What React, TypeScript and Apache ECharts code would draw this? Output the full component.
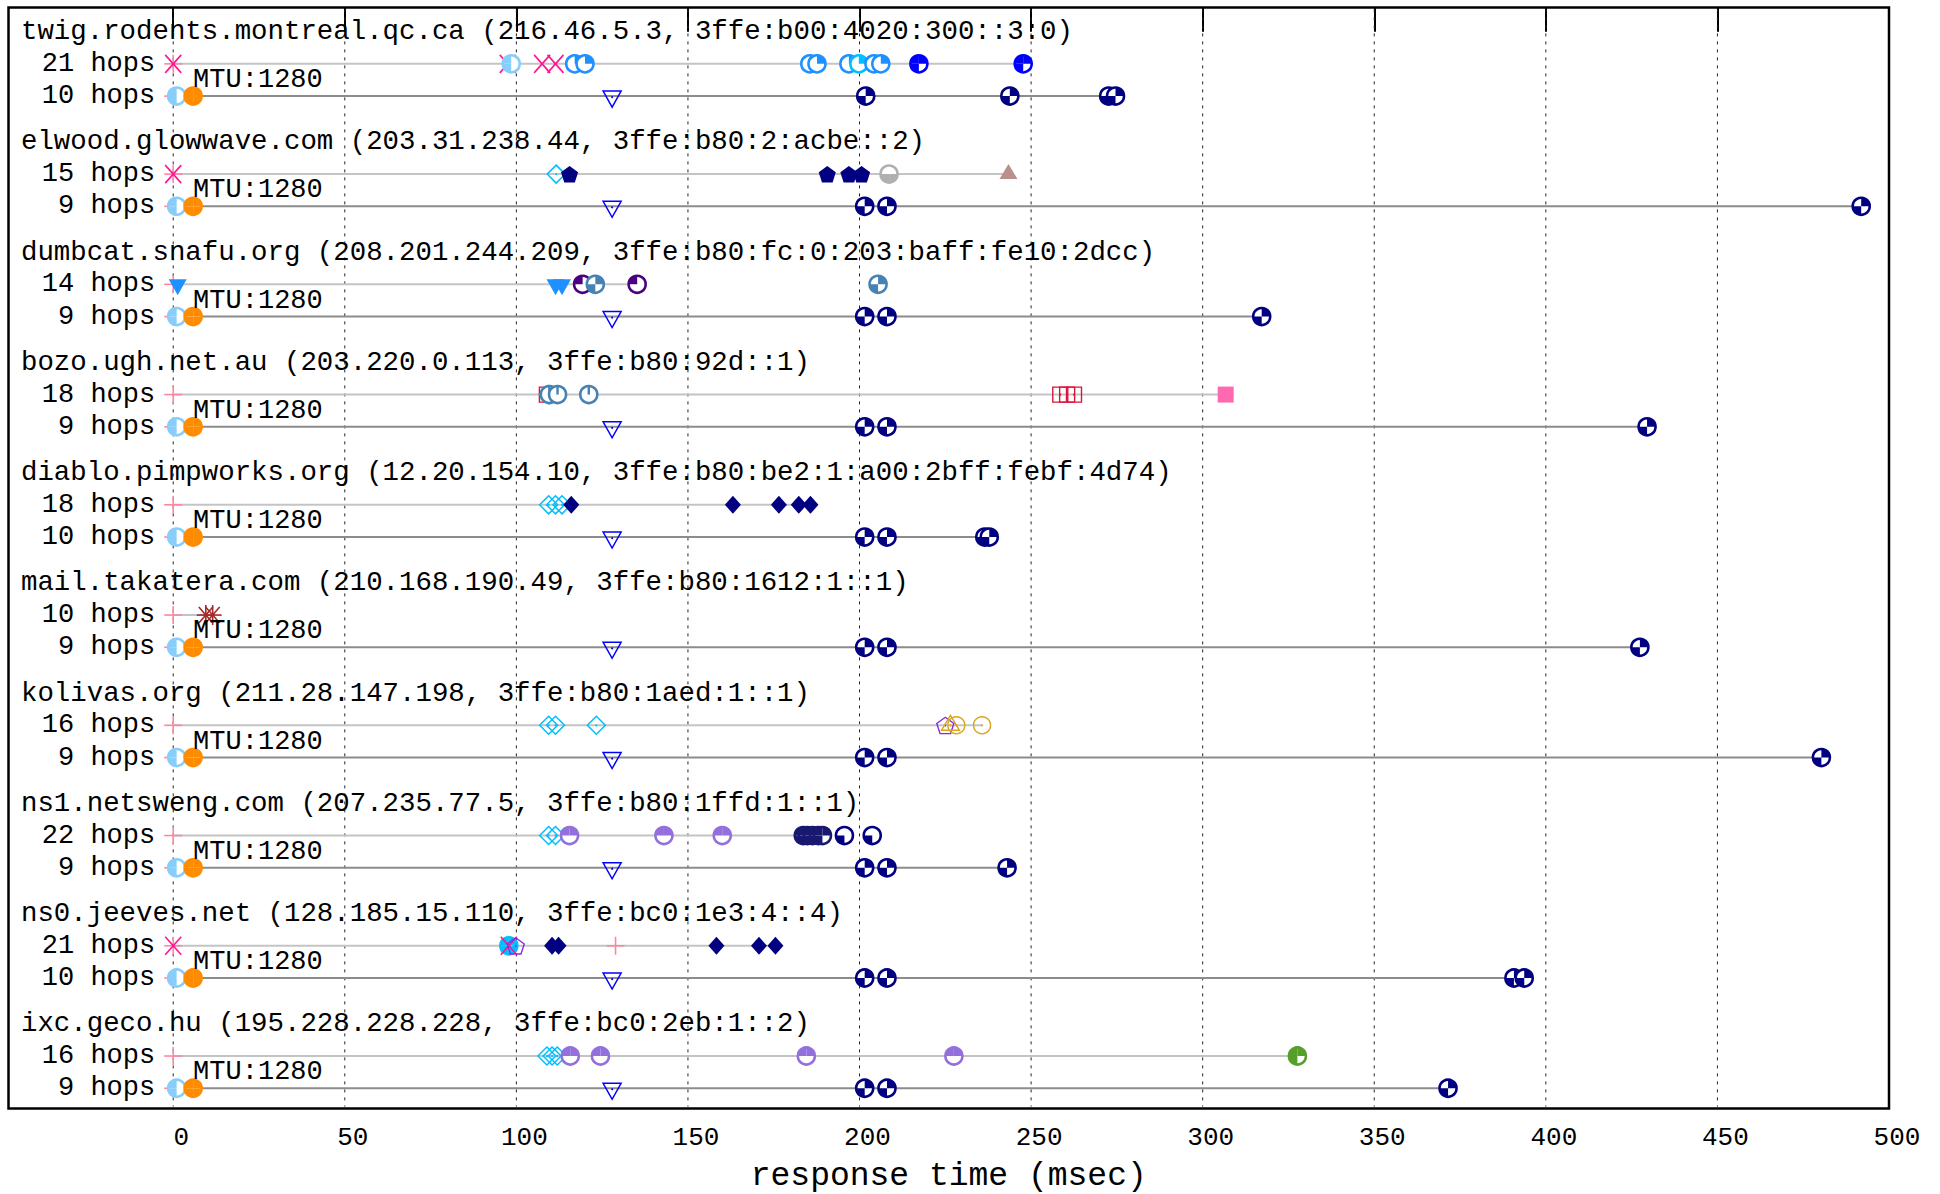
import React, { useEffect, useRef } from "react";
import * as echarts from "echarts";

// ---------------- data ----------------
const HOSTS = [
  "twig.rodents.montreal.qc.ca (216.46.5.3, 3ffe:b00:4020:300::3:0)",
  "elwood.glowwave.com (203.31.238.44, 3ffe:b80:2:acbe::2)",
  "dumbcat.snafu.org (208.201.244.209, 3ffe:b80:fc:0:203:baff:fe10:2dcc)",
  "bozo.ugh.net.au (203.220.0.113, 3ffe:b80:92d::1)",
  "diablo.pimpworks.org (12.20.154.10, 3ffe:b80:be2:1:a00:2bff:febf:4d74)",
  "mail.takatera.com (210.168.190.49, 3ffe:b80:1612:1::1)",
  "kolivas.org (211.28.147.198, 3ffe:b80:1aed:1::1)",
  "ns1.netsweng.com (207.235.77.5, 3ffe:b80:1ffd:1::1)",
  "ns0.jeeves.net (128.185.15.110, 3ffe:bc0:1e3:4::4)",
  "ixc.geco.hu (195.228.228.228, 3ffe:bc0:2eb:1::2)",
];
const HOPS_V4 = [21, 15, 14, 18, 18, 10, 16, 22, 21, 16];
const HOPS_V6 = [10, 9, 9, 9, 10, 9, 9, 9, 10, 9];
const MTU_TEXT = "MTU:1280";
const X_TITLE = "response time (msec)";
const X_TICKS = [0, 50, 100, 150, 200, 250, 300, 350, 400, 450, 500];
const X_GRID = [0, 50, 100, 150, 200, 250, 300, 350, 400, 450];

type Pt = [number, string];

// IPv4 traceroute: [response time, marker style]
const V4_POINTS: Pt[][] = [
  [[0, "plusPink"], [0, "crossPink"], [97.5, "crossPink"], [98.5, "lbHalf"], [107.5, "crossPink"], [111.4, "crossPink"],
   [117, "dodger1"], [120, "dodger1"], [185.5, "dodger1"], [187.6, "dodger1"], [196.9, "dodger1"], [199.8, "deepsky1"],
   [204.2, "dodger1"], [206.2, "dodger1"], [217.3, "blue3"], [247.7, "blue3"]],
  [[0, "plusPink"], [0, "crossPink"], [111.6, "diamondSky"], [115.5, "pentNavy"], [190.6, "pentNavy"], [196.9, "pentNavy"],
   [200.6, "pentNavy"], [208.6, "grayHalf"], [243.4, "triUpRosy"]],
  [[0, "plusPink"], [1.3, "triDodger"], [111.4, "triDodger"], [113.3, "triDodger"], [119.3, "indigo1"], [123, "steel2"],
   [135.2, "indigo1"], [205.4, "steel2"]],
  [[0, "plusPink"], [108.9, "squareCrimson"], [109.4, "diamondSky"], [109.6, "steelClock"], [112, "steelClock"],
   [121.1, "steelClock"], [258.5, "squareCrimson"], [260.5, "squareCrimson"], [262.5, "squareCrimson"], [306.7, "squareHot"]],
  [[0, "plusPink"], [109.4, "diamondSky"], [111.4, "diamondSky"], [113.3, "diamondSky"], [116, "diamondNavy"],
   [163.1, "diamondNavy"], [176.5, "diamondNavy"], [182.3, "diamondNavy"], [185.7, "diamondNavy"]],
  [[0, "plusPink"], [9.5, "asterBrown"], [11.5, "asterBrown"]],
  [[0, "plusPink"], [109.4, "diamondSky"], [111.4, "diamondSky"], [123.3, "diamondSky"], [225, "pentViolet"],
   [226.5, "triUpGold"], [228.2, "ringGold"], [235.7, "ringGold"]],
  [[0, "plusPink"], [109.4, "diamondSky"], [111.4, "diamondSky"], [115.5, "mpurpleHalf"], [143, "mpurpleHalf"],
   [160, "mpurpleHalf"], [183.6, "midnight3"], [184.8, "midnight3"], [186.3, "midnight3"], [188, "midnight3"],
   [189.2, "midnight3"], [195.6, "navy1"], [203.7, "navy1"]],
  [[0, "plusPink"], [0, "crossPink"], [97.8, "skyFull"], [97.8, "crossPink"], [99.8, "pentViolet"], [110.4, "diamondNavy"],
   [112.3, "diamondNavy"], [128.9, "plusPink"], [158.3, "diamondNavy"], [170.7, "diamondNavy"], [175.5, "diamondNavy"]],
  [[0, "plusPink"], [108.9, "diamondSky"], [110.4, "diamondSky"], [111.9, "diamondSky"], [115.7, "mpurpleHalf"],
   [124.5, "mpurpleHalf"], [184.5, "mpurpleHalf"], [227.5, "mpurpleHalf"], [327.6, "green3"]],
];
const V4_LINE_END = [247.7, 243.4, 135.2, 306.7, 185.7, 11.5, 235.7, 189.2, 175.5, 327.6];

// IPv6 traceroute: [response time, marker style]
const V6_POINTS: Pt[][] = [
  [[0, "plusPink"], [1, "lbHalf"], [5.8, "orangeDot"], [127.9, "triBlue"], [201.8, "navy2"], [243.8, "navy2"], [272.6, "navy2"], [274.6, "navy2"]],
  [[0, "plusPink"], [1, "lbHalf"], [5.8, "orangeDot"], [127.9, "triBlue"], [201.5, "navy2"], [208, "navy2"], [491.9, "navy2"]],
  [[0, "plusPink"], [1, "lbHalf"], [5.8, "orangeDot"], [127.9, "triBlue"], [201.5, "navy2"], [208, "navy2"], [317.2, "navy2"]],
  [[0, "plusPink"], [1, "lbHalf"], [5.8, "orangeDot"], [127.9, "triBlue"], [201.5, "navy2"], [208, "navy2"], [429.5, "navy2"]],
  [[0, "plusPink"], [1, "lbHalf"], [5.8, "orangeDot"], [127.9, "triBlue"], [201.5, "navy2"], [208, "navy2"], [236.5, "navy2"], [237.8, "navy2"]],
  [[0, "plusPink"], [1, "lbHalf"], [5.8, "orangeDot"], [127.9, "triBlue"], [201.5, "navy2"], [208, "navy2"], [427.4, "navy2"]],
  [[0, "plusPink"], [1, "lbHalf"], [5.8, "orangeDot"], [127.9, "triBlue"], [201.5, "navy2"], [208, "navy2"], [480.3, "navy2"]],
  [[0, "plusPink"], [1, "lbHalf"], [5.8, "orangeDot"], [127.9, "triBlue"], [201.5, "navy2"], [208, "navy2"], [243, "navy2"]],
  [[0, "plusPink"], [1, "lbHalf"], [5.8, "orangeDot"], [127.9, "triBlue"], [201.5, "navy2"], [208, "navy2"], [390.7, "navy2"], [393.7, "navy2"]],
  [[0, "plusPink"], [1, "lbHalf"], [5.8, "orangeDot"], [127.9, "triBlue"], [201.5, "navy2"], [208, "navy2"], [371.5, "navy2"]],
];

// ---------------- layout / style ----------------
const X_MIN = -48;
const X_MAX = 500;
const BLOCK = 110.12;
const ROW_GAP = 32.2;
const Y_MIN = -24.2;
const Y_MAX = 1075.8;
const FONT = "'Liberation Mono', 'DejaVu Sans Mono', monospace";

const TR: [number, number] = [-Math.PI / 2, 0];
const TL: [number, number] = [-Math.PI, -Math.PI / 2];
const BL: [number, number] = [Math.PI / 2, Math.PI];
const BR: [number, number] = [0, Math.PI / 2];

const STYLES: Record<string, { shape: string; color: string; q?: [number, number][] }> = {
  plusPink: { shape: "plus", color: "#ff86a0" },
  crossPink: { shape: "cross", color: "#ff1493" },
  lbHalf: { shape: "quad", color: "#87cefa", q: [TL, BL] },
  orangeDot: { shape: "quad", color: "#ff8c00", q: [TL, TR, BL, BR] },
  triBlue: { shape: "triDown", color: "#0000ff" },
  navy2: { shape: "quad", color: "#000080", q: [TR, BL] },
  dodger1: { shape: "quad", color: "#1e90ff", q: [TR] },
  deepsky1: { shape: "quad", color: "#00bfff", q: [TR] },
  blue3: { shape: "quad", color: "#0000ff", q: [TL, TR, BL] },
  diamondSky: { shape: "diamond", color: "#00bfff" },
  pentNavy: { shape: "pentF", color: "#000080" },
  grayHalf: { shape: "quad", color: "#b0b0b0", q: [BL, BR] },
  triUpRosy: { shape: "triUpF", color: "#bc8f8f" },
  triDodger: { shape: "triDownF", color: "#1e90ff" },
  indigo1: { shape: "quad", color: "#4b0082", q: [TL] },
  steel2: { shape: "quad", color: "#4682b4", q: [TR, BL] },
  steelClock: { shape: "clock", color: "#4682b4" },
  squareCrimson: { shape: "square", color: "#dc143c" },
  squareHot: { shape: "squareF", color: "#ff69b4" },
  diamondNavy: { shape: "diamondF", color: "#000080" },
  asterBrown: { shape: "star", color: "#a52a2a" },
  pentViolet: { shape: "pent", color: "#8a2be2" },
  triUpGold: { shape: "triUp", color: "#daa520" },
  ringGold: { shape: "ring", color: "#daa520" },
  mpurpleHalf: { shape: "quad", color: "#9370db", q: [TL, TR] },
  midnight3: { shape: "quad", color: "#191970", q: [TL, TR, BL] },
  navy1: { shape: "quad", color: "#000080", q: [BL] },
  skyFull: { shape: "quad", color: "#00bfff", q: [TL, TR, BL, BR] },
  green3: { shape: "quad", color: "#55a02a", q: [TL, TR, BL] },
};

const rowY = (i: number, k: number) => i * BLOCK + k * ROW_GAP;

// ---------------- derived series data ----------------
const markerData: number[][] = [];
const markerStyle: string[] = [];
HOSTS.forEach((_, i) => {
  V4_POINTS[i].forEach(([t, s]) => {
    markerData.push([t, rowY(i, 1)]);
    markerStyle.push(s);
  });
  V6_POINTS[i].forEach(([t, s]) => {
    markerData.push([t, rowY(i, 2)]);
    markerStyle.push(s);
  });
});

const lineData: number[][] = [];
HOSTS.forEach((_, i) => {
  lineData.push([V4_LINE_END[i], rowY(i, 1), 0]);
  const v6 = V6_POINTS[i];
  lineData.push([v6[v6.length - 1][0], rowY(i, 2), 1]);
});

type TextItem = { kind: string; text: string; t: number; y: number };
const textItems: TextItem[] = [];
HOSTS.forEach((h, i) => {
  textItems.push({ kind: "title", text: h, t: 0, y: rowY(i, 0) });
  textItems.push({ kind: "hops", text: `${HOPS_V4[i]} hops`, t: 0, y: rowY(i, 1) });
  textItems.push({ kind: "hops", text: `${HOPS_V6[i]} hops`, t: 0, y: rowY(i, 2) });
  const orange = V6_POINTS[i].find((p) => p[1] === "orangeDot");
  textItems.push({ kind: "mtu", text: MTU_TEXT, t: orange ? orange[0] : 0, y: rowY(i, 2) });
});

// ---------------- marker drawing ----------------
function ln(x1: number, y1: number, x2: number, y2: number, c: string, w: number) {
  return { type: "line", shape: { x1, y1, x2, y2 }, style: { stroke: c, lineWidth: w } };
}
function dot(cx: number, cy: number, c: string) {
  return { type: "circle", shape: { cx, cy, r: 1 }, style: { fill: c } };
}
function pentPts(cx: number, cy: number, r: number) {
  const pts: number[][] = [];
  for (let k = 0; k < 5; k++) {
    const a = -Math.PI / 2 + (k * 2 * Math.PI) / 5;
    pts.push([cx + r * Math.cos(a), cy + r * Math.sin(a) + 1]);
  }
  return pts;
}

function marker(key: string, cx: number, cy: number): any[] {
  const st = STYLES[key];
  const c = st.color;
  switch (st.shape) {
    case "plus":
      return [ln(cx - 9, cy, cx + 9, cy, c, 1.6), ln(cx, cy - 9, cx, cy + 9, c, 1.6)];
    case "cross":
      return [ln(cx - 8, cy - 9, cx + 8, cy + 9, c, 1.6), ln(cx - 8, cy + 9, cx + 8, cy - 9, c, 1.6)];
    case "star":
      return [
        ln(cx - 9, cy, cx + 9, cy, c, 1.6), ln(cx, cy - 10, cx, cy + 10, c, 1.6),
        ln(cx - 7, cy - 8, cx + 7, cy + 8, c, 1.6), ln(cx - 7, cy + 8, cx + 7, cy - 8, c, 1.6),
      ];
    case "quad": {
      const r = 8.5;
      const els: any[] = [{ type: "circle", shape: { cx, cy, r }, style: { fill: "#ffffff" } }];
      (st.q || []).forEach(([a0, a1]) => {
        els.push({ type: "sector", shape: { cx, cy, r0: 0, r, startAngle: a0, endAngle: a1 }, style: { fill: c } });
      });
      els.push({ type: "circle", shape: { cx, cy, r }, style: { fill: "none", stroke: c, lineWidth: 2.6 } });
      return els;
    }
    case "ring":
      return [{ type: "circle", shape: { cx, cy, r: 8.5 }, style: { fill: "none", stroke: c, lineWidth: 1.4 } }, dot(cx, cy, c)];
    case "clock":
      return [
        { type: "circle", shape: { cx, cy, r: 8.5 }, style: { fill: "#ffffff", stroke: c, lineWidth: 2.6 } },
        ln(cx, cy - 8.5, cx, cy, c, 2.4),
      ];
    case "triDown":
      return [
        { type: "polygon", shape: { points: [[cx - 9, cy - 5], [cx + 9, cy - 5], [cx, cy + 11]] }, style: { fill: "none", stroke: c, lineWidth: 1.5 } },
        dot(cx, cy + 1, c),
      ];
    case "triDownF":
      return [{ type: "polygon", shape: { points: [[cx - 9, cy - 5], [cx + 9, cy - 5], [cx, cy + 11]] }, style: { fill: c } }];
    case "triUpF":
      return [{ type: "polygon", shape: { points: [[cx, cy - 10], [cx + 9, cy + 5], [cx - 9, cy + 5]] }, style: { fill: c } }];
    case "triUp":
      return [
        { type: "polygon", shape: { points: [[cx, cy - 10], [cx + 9, cy + 5], [cx - 9, cy + 5]] }, style: { fill: "none", stroke: c, lineWidth: 1.4 } },
        dot(cx, cy, c),
      ];
    case "diamond":
      return [
        { type: "polygon", shape: { points: [[cx, cy - 9], [cx + 9, cy], [cx, cy + 9], [cx - 9, cy]] }, style: { fill: "none", stroke: c, lineWidth: 1.5 } },
        dot(cx, cy, c),
      ];
    case "diamondF":
      return [{ type: "polygon", shape: { points: [[cx, cy - 9], [cx + 8, cy], [cx, cy + 9], [cx - 8, cy]] }, style: { fill: c } }];
    case "pentF":
      return [{ type: "polygon", shape: { points: pentPts(cx, cy, 9) }, style: { fill: c } }];
    case "pent":
      return [{ type: "polygon", shape: { points: pentPts(cx, cy, 9) }, style: { fill: "none", stroke: c, lineWidth: 1.4 } }, dot(cx, cy, c)];
    case "square":
      return [
        { type: "rect", shape: { x: cx - 7.5, y: cy - 7.5, width: 15, height: 15 }, style: { fill: "none", stroke: c, lineWidth: 1.4 } },
        dot(cx, cy, c),
      ];
    case "squareF":
      return [{ type: "rect", shape: { x: cx - 8, y: cy - 8, width: 16, height: 16 }, style: { fill: c } }];
    default:
      return [];
  }
}

// ---------------- component ----------------
export default function App() {
  const ref = useRef<HTMLDivElement>(null);

  useEffect(() => {
    document.body.style.margin = "0";
    const chart = echarts.init(ref.current!, null, { renderer: "svg" });

    const option: any = {
      animation: false,
      backgroundColor: "#ffffff",
      grid: {
        left: 8.5,
        right: 51,
        top: 7.4,
        bottom: 85.4,
        show: true,
        borderColor: "#000000",
        borderWidth: 2.5,
        backgroundColor: "transparent",
        containLabel: false,
        outerBoundsMode: "none",
      },
      xAxis: [
        {
          type: "value",
          position: "bottom",
          min: X_MIN,
          max: X_MAX,
          axisLine: { show: false },
          splitLine: { show: false },
          axisTick: { show: true, inside: true, length: 17, customValues: X_TICKS, lineStyle: { color: "#000", width: 2 } },
          axisLabel: {
            show: true,
            customValues: X_TICKS,
            fontFamily: FONT,
            fontSize: 26,
            color: "#000",
            margin: 16,
            padding: [0, 0, 0, 16],
          },
          name: X_TITLE,
          nameLocation: "middle",
          nameGap: 51,
          nameTextStyle: { fontFamily: FONT, fontSize: 33, color: "#000" },
        },
        {
          type: "value",
          position: "top",
          min: X_MIN,
          max: X_MAX,
          axisLine: { show: false },
          splitLine: { show: false },
          axisLabel: { show: false },
          axisTick: { show: true, inside: true, length: 17, customValues: X_TICKS, lineStyle: { color: "#000", width: 2 } },
        },
      ],
      yAxis: { type: "value", min: Y_MIN, max: Y_MAX, inverse: true, show: false },
      series: [
        {
          type: "custom",
          name: "grid",
          silent: true,
          data: X_GRID.map((v) => [v, Y_MIN]),
          renderItem: (params: any, api: any) => {
            const cs = params.coordSys;
            const x = api.coord([api.value(0), 0])[0];
            return {
              type: "line",
              shape: { x1: x, y1: cs.y + 2, x2: x, y2: cs.y + cs.height - 2 },
              style: { stroke: "#222", lineWidth: 1, lineDash: [3, 5] },
            };
          },
        },
        {
          type: "custom",
          name: "rows",
          silent: true,
          data: lineData,
          renderItem: (params: any, api: any) => {
            const y = api.value(1);
            const p0 = api.coord([0, y]);
            const p1 = api.coord([api.value(0), y]);
            const v6 = api.value(2) === 1;
            return {
              type: "line",
              shape: { x1: p0[0], y1: p0[1], x2: p1[0], y2: p1[1] },
              style: { stroke: v6 ? "#8c8c8c" : "#c4c4c4", lineWidth: 2 },
            };
          },
        },
        {
          type: "custom",
          name: "hops",
          silent: true,
          data: markerData,
          renderItem: (params: any, api: any) => {
            const p = api.coord([api.value(0), api.value(1)]);
            return { type: "group", children: marker(markerStyle[params.dataIndex], p[0], p[1]) };
          },
        },
        {
          type: "custom",
          name: "texts",
          silent: true,
          data: textItems.map((d) => [d.t, d.y]),
          renderItem: (params: any, api: any) => {
            const item = textItems[params.dataIndex];
            const cs = params.coordSys;
            const p = api.coord([api.value(0), api.value(1)]);
            let x = p[0];
            let y = p[1];
            let align = "left";
            let size = 27;
            if (item.kind === "title") {
              x = cs.x + 12.5;
              size = 27.4;
            } else if (item.kind === "hops") {
              x = p[0] - 18;
              align = "right";
            } else {
              y = p[1] - 16;
            }
            return {
              type: "text",
              x,
              y,
              style: {
                text: item.text,
                fill: "#000",
                fontFamily: FONT,
                fontSize: size,
                align,
                verticalAlign: "middle",
              },
            };
          },
        },
      ],
    };

    chart.setOption(option);
    return () => chart.dispose();
  }, []);

  return <div ref={ref} style={{ width: 1940, height: 1194 }} />;
}
